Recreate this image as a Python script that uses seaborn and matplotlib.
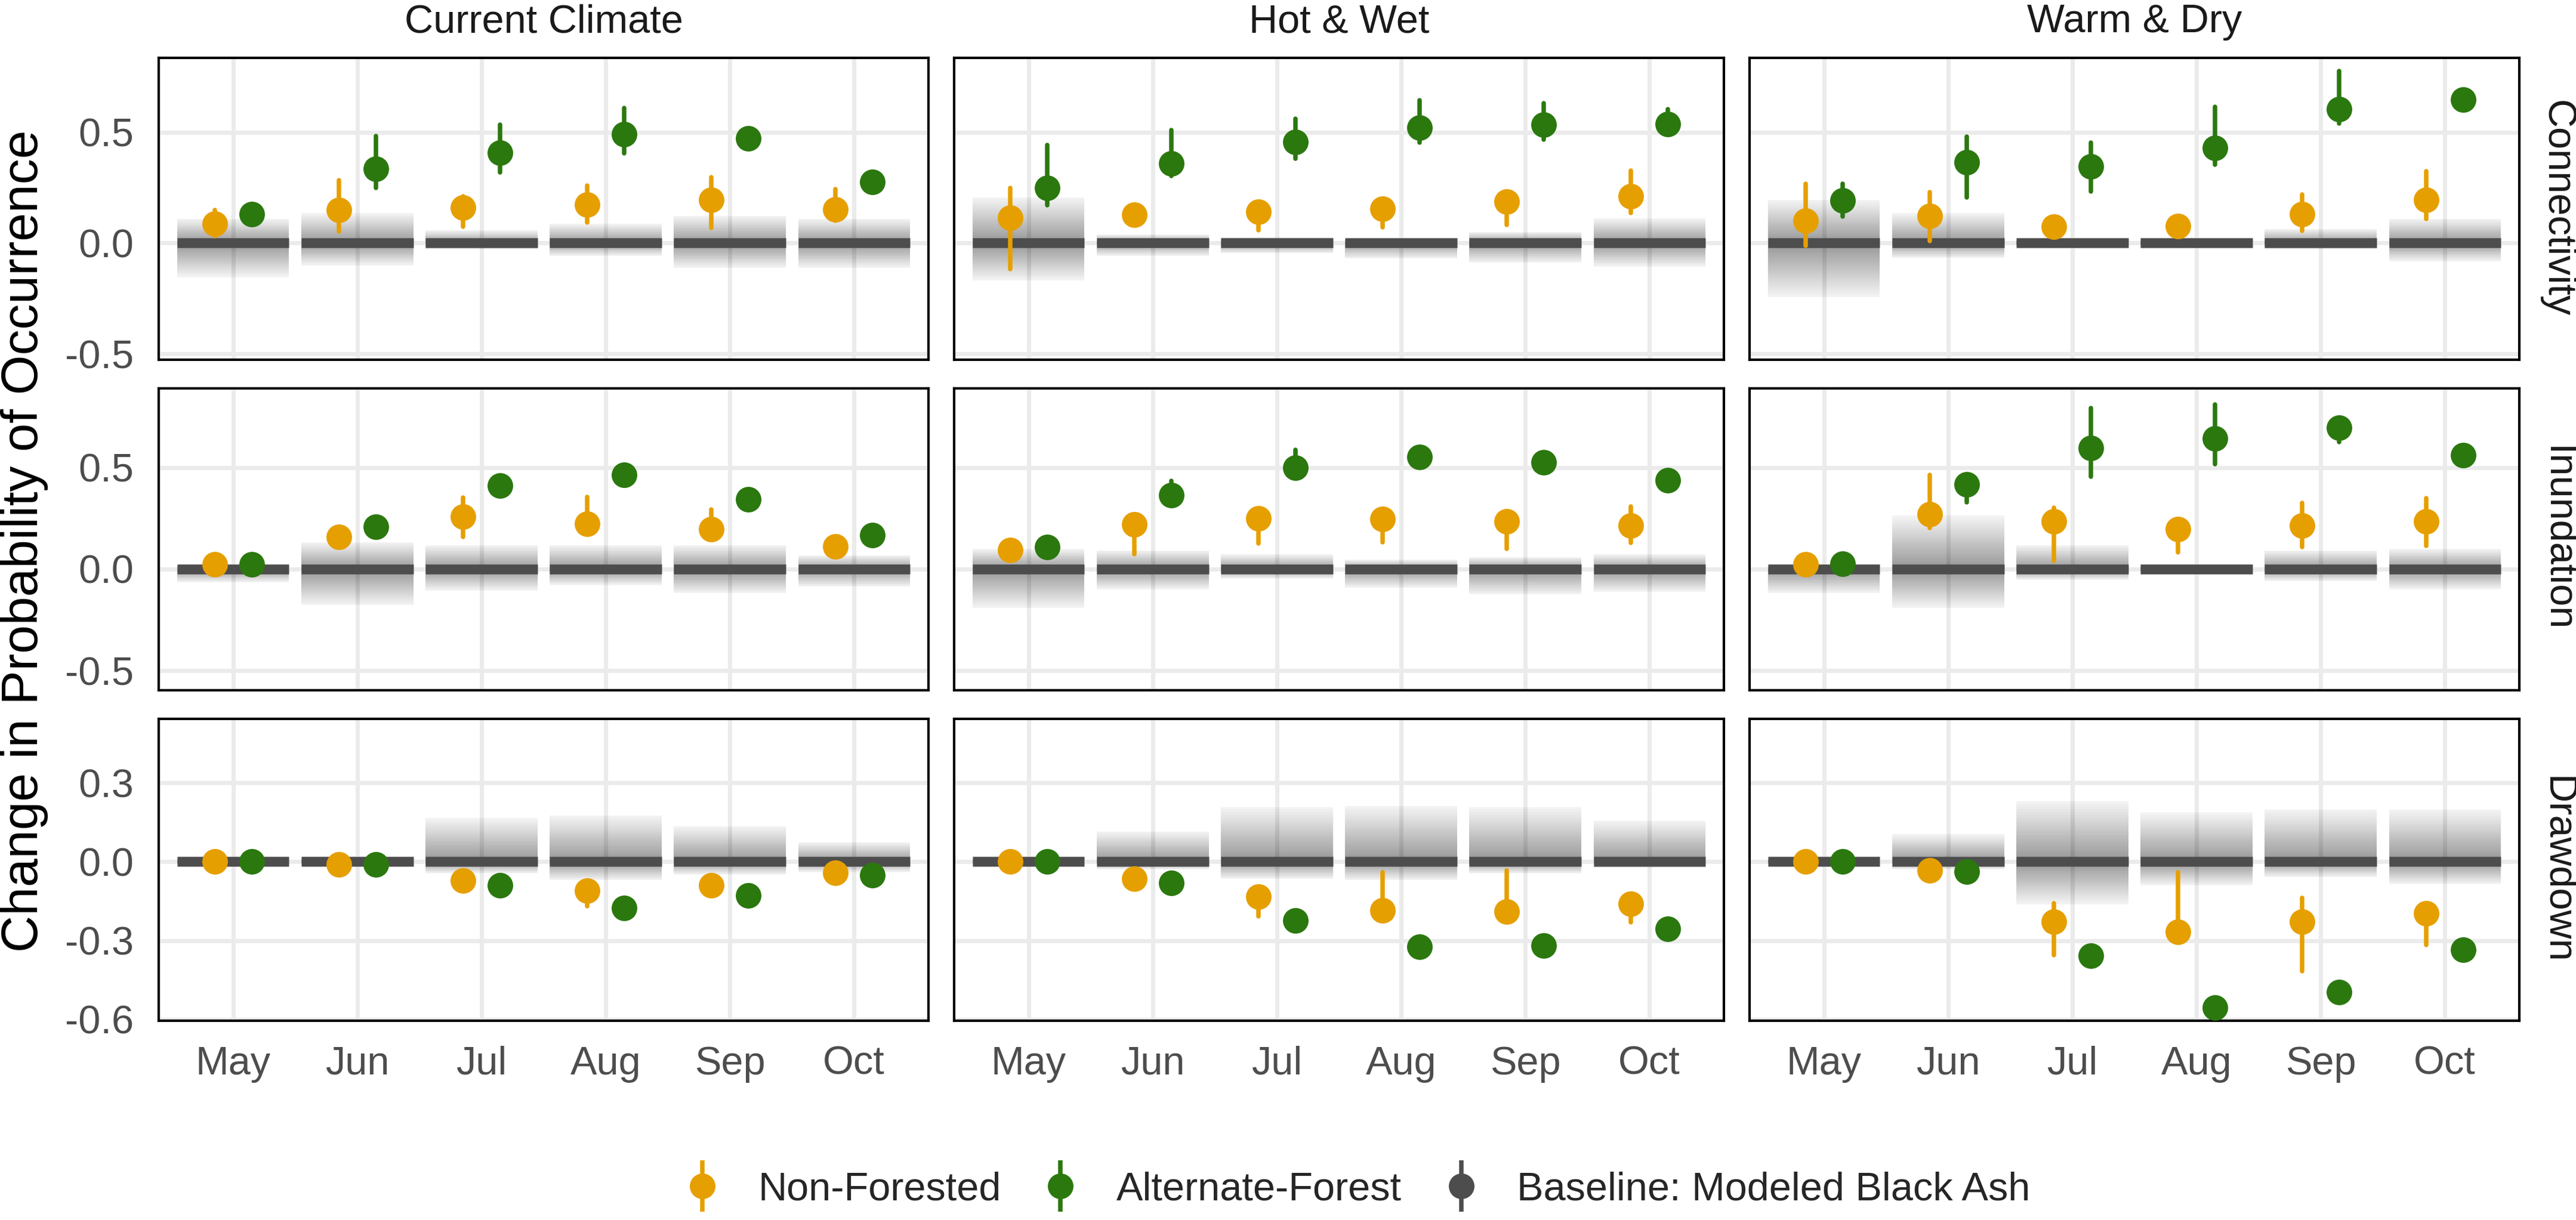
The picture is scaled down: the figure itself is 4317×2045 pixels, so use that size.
import numpy as np
import pandas as pd
import matplotlib
matplotlib.use("Agg")
import matplotlib.pyplot as plt
from matplotlib.lines import Line2D
from matplotlib.legend_handler import HandlerTuple
import seaborn as sns

# ---------------- data ----------------
MONTHS = ["May", "Jun", "Jul", "Aug", "Sep", "Oct"]
SCENARIOS = ["Current Climate", "Hot & Wet", "Warm & Dry"]
METRICS = ["Connectivity", "Inundation", "Drawdown"]
SERIES = ["Non-Forested", "Alternate-Forest", "Baseline: Modeled Black Ash"]
BASELINE = [0, 0, 0, 0, 0, 0]

# Connectivity - Current Climate
CONN_CUR_NF = [0.087, 0.149, 0.159, 0.173, 0.195, 0.151]
CONN_CUR_NF_LO = [0.030, 0.053, 0.075, 0.093, 0.069, 0.100]
CONN_CUR_NF_HI = [0.149, 0.283, 0.210, 0.259, 0.298, 0.243]
CONN_CUR_AF = [0.129, 0.334, 0.408, 0.490, 0.472, 0.277]
CONN_CUR_AF_LO = [0.100, 0.248, 0.318, 0.404, 0.440, 0.250]
CONN_CUR_AF_HI = [0.160, 0.482, 0.533, 0.611, 0.500, 0.300]
CONN_CUR_BAND_HI = [0.110, 0.135, 0.057, 0.087, 0.123, 0.110]
CONN_CUR_BAND_LO = [-0.154, -0.100, -0.028, -0.058, -0.112, -0.112]
# Connectivity - Hot & Wet
CONN_HW_NF = [0.114, 0.127, 0.141, 0.155, 0.186, 0.210]
CONN_HW_NF_LO = [-0.118, 0.100, 0.057, 0.071, 0.081, 0.135]
CONN_HW_NF_HI = [0.248, 0.150, 0.170, 0.180, 0.210, 0.328]
CONN_HW_AF = [0.249, 0.358, 0.457, 0.520, 0.533, 0.537]
CONN_HW_AF_LO = [0.171, 0.304, 0.380, 0.454, 0.466, 0.510]
CONN_HW_AF_HI = [0.442, 0.511, 0.560, 0.645, 0.631, 0.605]
CONN_HW_BAND_HI = [0.207, 0.039, 0.027, 0.020, 0.050, 0.111]
CONN_HW_BAND_LO = [-0.169, -0.058, -0.046, -0.070, -0.088, -0.106]
# Connectivity - Warm & Dry
CONN_WD_NF = [0.102, 0.123, 0.075, 0.077, 0.131, 0.195]
CONN_WD_NF_LO = [-0.012, 0.008, 0.050, 0.050, 0.054, 0.108]
CONN_WD_NF_HI = [0.267, 0.231, 0.100, 0.100, 0.219, 0.325]
CONN_WD_AF = [0.193, 0.366, 0.346, 0.428, 0.605, 0.647]
CONN_WD_AF_LO = [0.119, 0.205, 0.234, 0.354, 0.541, 0.620]
CONN_WD_AF_HI = [0.267, 0.481, 0.454, 0.614, 0.776, 0.670]
CONN_WD_BAND_HI = [0.195, 0.135, 0.015, 0.015, 0.063, 0.110]
CONN_WD_BAND_LO = [-0.245, -0.067, -0.015, -0.015, -0.028, -0.082]

# Inundation - Current Climate
INUN_CUR_NF = [0.022, 0.158, 0.259, 0.224, 0.195, 0.112]
INUN_CUR_NF_LO = [0.005, 0.135, 0.158, 0.190, 0.170, 0.090]
INUN_CUR_NF_HI = [0.040, 0.180, 0.351, 0.355, 0.292, 0.130]
INUN_CUR_AF = [0.024, 0.207, 0.412, 0.464, 0.342, 0.167]
INUN_CUR_AF_LO = [0.005, 0.190, 0.395, 0.445, 0.325, 0.150]
INUN_CUR_AF_HI = [0.040, 0.225, 0.430, 0.480, 0.360, 0.185]
INUN_CUR_BAND_HI = [0.020, 0.132, 0.118, 0.118, 0.118, 0.066]
INUN_CUR_BAND_LO = [-0.066, -0.178, -0.105, -0.079, -0.118, -0.086]
# Inundation - Hot & Wet
INUN_HW_NF = [0.095, 0.221, 0.250, 0.246, 0.234, 0.213]
INUN_HW_NF_LO = [0.080, 0.072, 0.125, 0.132, 0.099, 0.129]
INUN_HW_NF_HI = [0.110, 0.240, 0.270, 0.270, 0.250, 0.307]
INUN_HW_AF = [0.109, 0.364, 0.499, 0.553, 0.526, 0.437]
INUN_HW_AF_LO = [0.090, 0.340, 0.480, 0.530, 0.500, 0.420]
INUN_HW_AF_HI = [0.125, 0.434, 0.586, 0.570, 0.545, 0.455]
INUN_HW_BAND_HI = [0.099, 0.092, 0.072, 0.046, 0.059, 0.072]
INUN_HW_BAND_LO = [-0.191, -0.099, -0.046, -0.092, -0.125, -0.112]
# Inundation - Warm & Dry
INUN_WD_NF = [0.024, 0.270, 0.234, 0.195, 0.213, 0.234]
INUN_WD_NF_LO = [0.005, 0.201, 0.042, 0.082, 0.109, 0.114]
INUN_WD_NF_HI = [0.045, 0.464, 0.303, 0.220, 0.326, 0.349]
INUN_WD_AF = [0.025, 0.417, 0.595, 0.642, 0.697, 0.562]
INUN_WD_AF_LO = [0.005, 0.329, 0.454, 0.517, 0.625, 0.540]
INUN_WD_AF_HI = [0.045, 0.440, 0.793, 0.810, 0.730, 0.585]
INUN_WD_BAND_HI = [0.020, 0.263, 0.118, 0.015, 0.092, 0.099]
INUN_WD_BAND_LO = [-0.118, -0.191, -0.053, -0.015, -0.059, -0.099]

# Drawdown - Current Climate
DRAW_CUR_NF = [0.000, -0.011, -0.072, -0.111, -0.090, -0.042]
DRAW_CUR_NF_LO = [-0.015, -0.026, -0.087, -0.169, -0.105, -0.057]
DRAW_CUR_NF_HI = [0.015, 0.004, -0.057, -0.096, -0.075, -0.027]
DRAW_CUR_AF = [0.000, -0.011, -0.090, -0.177, -0.129, -0.052]
DRAW_CUR_AF_LO = [-0.015, -0.026, -0.105, -0.192, -0.144, -0.067]
DRAW_CUR_AF_HI = [0.015, 0.004, -0.075, -0.162, -0.114, -0.037]
DRAW_CUR_BAND_HI = [0.012, 0.012, 0.166, 0.176, 0.135, 0.074]
DRAW_CUR_BAND_LO = [-0.012, -0.012, -0.044, -0.070, -0.049, -0.039]
# Drawdown - Hot & Wet
DRAW_HW_NF = [0.000, -0.065, -0.133, -0.185, -0.189, -0.160]
DRAW_HW_NF_LO = [-0.015, -0.080, -0.208, -0.200, -0.205, -0.231]
DRAW_HW_NF_HI = [0.015, -0.050, -0.120, -0.039, -0.034, -0.145]
DRAW_HW_AF = [0.000, -0.080, -0.223, -0.323, -0.320, -0.256]
DRAW_HW_AF_LO = [-0.015, -0.095, -0.238, -0.338, -0.335, -0.271]
DRAW_HW_AF_HI = [0.015, -0.065, -0.208, -0.308, -0.305, -0.241]
DRAW_HW_BAND_HI = [0.012, 0.115, 0.207, 0.212, 0.207, 0.156]
DRAW_HW_BAND_LO = [-0.012, -0.029, -0.065, -0.070, -0.044, -0.024]
# Drawdown - Warm & Dry
DRAW_WD_NF = [0.000, -0.034, -0.228, -0.267, -0.228, -0.196]
DRAW_WD_NF_LO = [-0.015, -0.050, -0.356, -0.285, -0.416, -0.317]
DRAW_WD_NF_HI = [0.015, -0.020, -0.157, -0.039, -0.138, -0.180]
DRAW_WD_AF = [0.000, -0.037, -0.358, -0.556, -0.497, -0.336]
DRAW_WD_AF_LO = [-0.015, -0.052, -0.373, -0.571, -0.512, -0.351]
DRAW_WD_AF_HI = [0.015, -0.022, -0.343, -0.541, -0.482, -0.321]
DRAW_WD_BAND_HI = [0.012, 0.104, 0.230, 0.186, 0.197, 0.197]
DRAW_WD_BAND_LO = [-0.012, -0.029, -0.162, -0.090, -0.059, -0.085]

ROW_YLIM = [(-0.527, 0.836), (-0.597, 0.89), (-0.605, 0.543)]
ROW_YTICKS = [[-0.5, 0.0, 0.5], [-0.5, 0.0, 0.5], [-0.6, -0.3, 0.0, 0.3]]

PANELS = {
    (0, 0): (CONN_CUR_NF, CONN_CUR_NF_LO, CONN_CUR_NF_HI, CONN_CUR_AF, CONN_CUR_AF_LO, CONN_CUR_AF_HI, CONN_CUR_BAND_LO, CONN_CUR_BAND_HI),
    (0, 1): (CONN_HW_NF, CONN_HW_NF_LO, CONN_HW_NF_HI, CONN_HW_AF, CONN_HW_AF_LO, CONN_HW_AF_HI, CONN_HW_BAND_LO, CONN_HW_BAND_HI),
    (0, 2): (CONN_WD_NF, CONN_WD_NF_LO, CONN_WD_NF_HI, CONN_WD_AF, CONN_WD_AF_LO, CONN_WD_AF_HI, CONN_WD_BAND_LO, CONN_WD_BAND_HI),
    (1, 0): (INUN_CUR_NF, INUN_CUR_NF_LO, INUN_CUR_NF_HI, INUN_CUR_AF, INUN_CUR_AF_LO, INUN_CUR_AF_HI, INUN_CUR_BAND_LO, INUN_CUR_BAND_HI),
    (1, 1): (INUN_HW_NF, INUN_HW_NF_LO, INUN_HW_NF_HI, INUN_HW_AF, INUN_HW_AF_LO, INUN_HW_AF_HI, INUN_HW_BAND_LO, INUN_HW_BAND_HI),
    (1, 2): (INUN_WD_NF, INUN_WD_NF_LO, INUN_WD_NF_HI, INUN_WD_AF, INUN_WD_AF_LO, INUN_WD_AF_HI, INUN_WD_BAND_LO, INUN_WD_BAND_HI),
    (2, 0): (DRAW_CUR_NF, DRAW_CUR_NF_LO, DRAW_CUR_NF_HI, DRAW_CUR_AF, DRAW_CUR_AF_LO, DRAW_CUR_AF_HI, DRAW_CUR_BAND_LO, DRAW_CUR_BAND_HI),
    (2, 1): (DRAW_HW_NF, DRAW_HW_NF_LO, DRAW_HW_NF_HI, DRAW_HW_AF, DRAW_HW_AF_LO, DRAW_HW_AF_HI, DRAW_HW_BAND_LO, DRAW_HW_BAND_HI),
    (2, 2): (DRAW_WD_NF, DRAW_WD_NF_LO, DRAW_WD_NF_HI, DRAW_WD_AF, DRAW_WD_AF_LO, DRAW_WD_AF_HI, DRAW_WD_BAND_LO, DRAW_WD_BAND_HI),
}

COLORS = {"Non-Forested": "#E69F00", "Alternate-Forest": "#2B780F",
          "Baseline: Modeled Black Ash": "#4D4D4D"}

# ---------------- style ----------------
sns.set_theme(style="whitegrid")
plt.rcParams["font.family"] = ["Liberation Sans", "DejaVu Sans"]

DPI = 300
fig, axes = plt.subplots(3, 3, figsize=(4317 / DPI, 2045 / DPI), dpi=DPI)
fig.subplots_adjust(left=266 / 4317, right=4222 / 4317, top=1 - 97 / 2045,
                    bottom=1 - 1711 / 2045, wspace=0.0333, hspace=0.0947)

NLAY = 30
xpos = np.arange(len(MONTHS))

for (r, c), vals in PANELS.items():
    ax = axes[r, c]
    nf, nf_lo, nf_hi, af, af_lo, af_hi, b_lo, b_hi = vals

    # gradient uncertainty band of baseline (darker near the baseline)
    b_lo = np.asarray(b_lo)
    b_hi = np.asarray(b_hi)
    ax.bar(xpos, b_hi - b_lo, bottom=b_lo, width=0.9, color="black",
           alpha=0.035, linewidth=0, zorder=1)
    for k in range(1, NLAY + 1):
        f = (k / NLAY) ** 1.4
        ax.bar(xpos, b_hi * f, bottom=0, width=0.9, color="black",
               alpha=0.017, linewidth=0, zorder=1)
        ax.bar(xpos, b_lo * f, bottom=0, width=0.9, color="black",
               alpha=0.017, linewidth=0, zorder=1)

    # baseline bar
    base = np.asarray(BASELINE, dtype=float)
    ax.hlines(base, xpos - 0.45, xpos + 0.45, color=COLORS[SERIES[2]],
              linewidth=3.96, zorder=3, capstyle="butt")

    # points with intervals
    rows = []
    for name, mid, lo, hi in (("Non-Forested", nf, nf_lo, nf_hi),
                              ("Alternate-Forest", af, af_lo, af_hi)):
        for m, a, b, d in zip(MONTHS, lo, mid, hi):
            rows += [(m, name, a), (m, name, b), (m, name, d)]
    df = pd.DataFrame(rows, columns=["month", "series", "value"])
    sns.pointplot(data=df, x="month", y="value", hue="series", order=MONTHS,
                  hue_order=SERIES[:2], palette=COLORS, dodge=0.3,
                  estimator="median", errorbar=lambda v: (v.min(), v.max()),
                  linestyle="none", markers="o", markersize=10.3,
                  markeredgewidth=0, err_kws={"linewidth": 1.8},
                  legend=False, ax=ax, zorder=5)

    ax.set_xlim(-0.6, 5.6)
    ax.set_ylim(*ROW_YLIM[r])
    ax.set_yticks(ROW_YTICKS[r])
    ax.set_yticklabels([f"{t:.1f}" for t in ROW_YTICKS[r]])
    ax.set_xticks(xpos)
    ax.set_xticklabels(MONTHS)
    ax.set_xlabel("")
    ax.set_ylabel("")
    ax.set_axisbelow(True)
    ax.grid(True, axis="both", color="#EBEBEB", linewidth=1.7)
    ax.set_facecolor("white")
    for sp in ax.spines.values():
        sp.set_visible(True)
        sp.set_color("black")
        sp.set_linewidth(1.0)
    ax.tick_params(axis="both", length=0, pad=10, labelsize=16,
                   labelcolor="#4D4D4D")
    if r != 2:
        ax.tick_params(axis="x", labelbottom=False)
    if c != 0:
        ax.tick_params(axis="y", labelleft=False)
    if r == 0:
        ax.set_title(SCENARIOS[c], fontsize=16, color="#1A1A1A", pad=10.3)
    if c == 2:
        ax.text(1 + 63 / 1290, 0.5, METRICS[r], rotation=270,
                transform=ax.transAxes, ha="center", va="center",
                fontsize=16, color="#1A1A1A")

fig.text(41 / 4317, 1 - 907 / 2045, "Change in Probability of Occurrence",
         rotation=90, ha="center", va="center", fontsize=20.6, color="black")

handles = []
for s in SERIES:
    col = COLORS[s]
    h1 = Line2D([], [], color=col, marker="|", markersize=20.6,
                markeredgewidth=1.8, linestyle="none")
    h2 = Line2D([], [], color=col, marker="o", markersize=10.3,
                markeredgewidth=0, linestyle="none")
    handles.append((h1, h2))
fig.legend(handles, SERIES, handler_map={tuple: HandlerTuple(ndivide=1)},
           loc="center", bbox_to_anchor=(0.5265, 1 - 1994 / 2045), ncol=3,
           frameon=False, fontsize=16, handlelength=1.0, handletextpad=0.9,
           columnspacing=1.0)

fig.savefig("out.png", dpi=DPI, facecolor="white")
